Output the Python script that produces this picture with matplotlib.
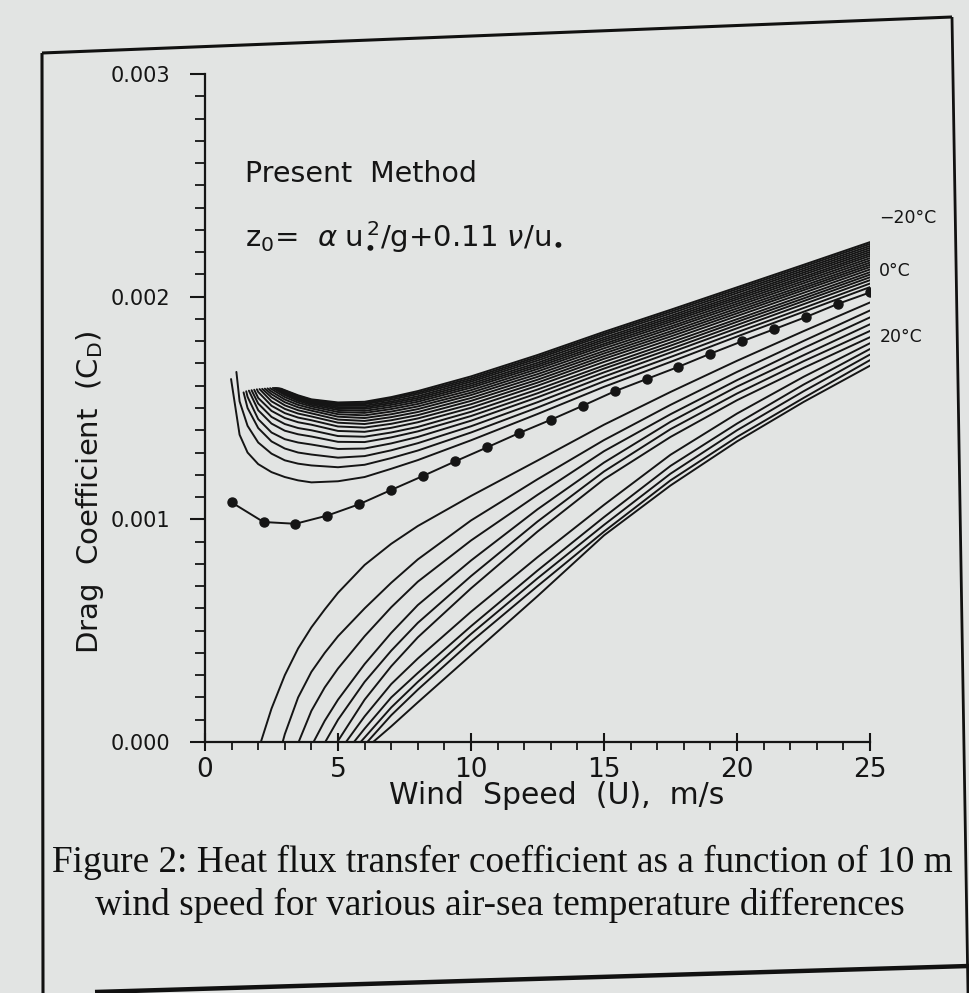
import numpy as np
import matplotlib
matplotlib.use('Agg')
import matplotlib.pyplot as plt
from matplotlib.lines import Line2D
from matplotlib.ticker import MultipleLocator, FormatStrFormatter

nan = np.nan
W, H = 969, 993
BG = '#e2e4e3'
INK = '#151515'

# drag coefficient values are in units of 1e-3

# 0 C curve (the one with dots)
U0 = [1.0, 2.2, 3.4, 4.6, 5.8, 7.0, 8.2, 9.4, 10.6, 11.8, 13.0, 14.2, 15.4,
      16.6, 17.8, 19.0, 20.2, 21.4, 22.6, 23.8, 25.0]
CD0 = [1.076, 0.988, 0.980, 1.017, 1.068, 1.132, 1.195, 1.260, 1.323, 1.387,
       1.447, 1.510, 1.575, 1.630, 1.685, 1.744, 1.800, 1.854, 1.909, 1.968, 2.019]

# air colder than sea, down to -20 C
UP_U = [1.3, 1.6, 2.0, 2.5, 3.0, 3.5, 4.0, 5, 6, 7, 8, 10, 12.5, 15, 17.5, 20, 22.5, 25]
UP_TIP_U = [0.98, 1.18, 1.45, 1.55, 1.65, 1.75, 1.85, 1.95, 2.05, 2.15,
            2.25, 2.35, 2.45, 2.55, 2.6, 2.65, 2.7, 2.75, 2.8, 2.85]
UP_TIP_CD = [1.63, 1.662, 1.57, 1.575, 1.578, 1.58, 1.582, 1.584, 1.585, 1.586,
             1.587, 1.588, 1.589, 1.59, 1.59, 1.59, 1.59, 1.589, 1.588, 1.587]
UP_CD = [
    [1.38, 1.30, 1.248, 1.212, 1.19, 1.175, 1.166, 1.171, 1.190, 1.227, 1.266, 1.355, 1.473, 1.595, 1.707, 1.821, 1.932, 2.043],
    [1.53, 1.42, 1.345, 1.295, 1.265, 1.25, 1.242, 1.234, 1.245, 1.275, 1.309, 1.39, 1.502, 1.62, 1.729, 1.84, 1.949, 2.059],
    [nan, 1.50, 1.41, 1.35, 1.318, 1.30, 1.291, 1.277, 1.284, 1.310, 1.342, 1.418, 1.526, 1.641, 1.749, 1.858, 1.966, 2.074],
    [nan, 1.55, 1.45, 1.39, 1.36, 1.345, 1.336, 1.316, 1.318, 1.341, 1.370, 1.443, 1.548, 1.660, 1.765, 1.873, 1.980, 2.087],
    [nan, nan, 1.49, 1.43, 1.398, 1.382, 1.372, 1.348, 1.347, 1.368, 1.395, 1.464, 1.566, 1.677, 1.780, 1.887, 1.992, 2.099],
    [nan, nan, 1.52, 1.46, 1.428, 1.41, 1.40, 1.374, 1.371, 1.390, 1.415, 1.483, 1.583, 1.691, 1.794, 1.899, 2.004, 2.110],
    [nan, nan, 1.545, 1.487, 1.455, 1.436, 1.425, 1.397, 1.393, 1.411, 1.436, 1.501, 1.600, 1.707, 1.808, 1.913, 2.017, 2.122],
    [nan, nan, 1.572, 1.51, 1.477, 1.457, 1.445, 1.417, 1.412, 1.429, 1.453, 1.517, 1.614, 1.721, 1.821, 1.925, 2.029, 2.133],
    [nan, nan, nan, 1.53, 1.496, 1.475, 1.462, 1.434, 1.428, 1.445, 1.468, 1.532, 1.627, 1.733, 1.833, 1.936, 2.039, 2.143],
    [nan, nan, nan, 1.548, 1.512, 1.49, 1.476, 1.448, 1.442, 1.459, 1.482, 1.545, 1.640, 1.745, 1.844, 1.947, 2.049, 2.153],
    [nan, nan, nan, 1.562, 1.526, 1.503, 1.488, 1.461, 1.455, 1.472, 1.495, 1.558, 1.652, 1.756, 1.856, 1.958, 2.060, 2.163],
    [nan, nan, nan, 1.574, 1.538, 1.514, 1.498, 1.472, 1.467, 1.484, 1.507, 1.569, 1.664, 1.768, 1.866, 1.968, 2.070, 2.173],
    [nan, nan, nan, 1.585, 1.549, 1.524, 1.507, 1.482, 1.478, 1.495, 1.518, 1.580, 1.675, 1.779, 1.877, 1.978, 2.080, 2.183],
    [nan, nan, nan, nan, 1.558, 1.532, 1.514, 1.491, 1.487, 1.505, 1.528, 1.591, 1.685, 1.788, 1.887, 1.988, 2.089, 2.192],
    [nan, nan, nan, nan, 1.564, 1.538, 1.52, 1.498, 1.496, 1.514, 1.537, 1.600, 1.694, 1.798, 1.896, 1.997, 2.099, 2.201],
    [nan, nan, nan, nan, 1.568, 1.543, 1.525, 1.504, 1.503, 1.522, 1.545, 1.609, 1.703, 1.807, 1.905, 2.006, 2.108, 2.210],
    [nan, nan, nan, nan, 1.572, 1.547, 1.529, 1.510, 1.510, 1.529, 1.553, 1.618, 1.713, 1.816, 1.914, 2.016, 2.117, 2.219],
    [nan, nan, nan, nan, 1.575, 1.551, 1.533, 1.516, 1.517, 1.537, 1.562, 1.626, 1.722, 1.826, 1.924, 2.025, 2.126, 2.228],
    [nan, nan, nan, nan, 1.578, 1.554, 1.536, 1.521, 1.522, 1.544, 1.569, 1.634, 1.730, 1.834, 1.933, 2.034, 2.135, 2.237],
    [nan, nan, nan, nan, 1.580, 1.557, 1.539, 1.525, 1.528, 1.549, 1.576, 1.642, 1.738, 1.842, 1.941, 2.042, 2.143, 2.245],
]

# air warmer than sea, up to +20 C; each curve starts from Cd = 0
LOW_U = [2.5, 3, 3.5, 4, 4.5, 5, 6, 7, 8, 10, 12.5, 15, 17.5, 20, 22.5, 25]
LOW_START_U = [2.1, 2.92, 3.52, 4.08, 4.52, 4.97, 5.3, 5.6, 5.85, 6.1, 6.32]
LOW_CD = [
    [0.15, 0.30, 0.42, 0.515, 0.595, 0.67, 0.795, 0.89, 0.97, 1.105, 1.264, 1.425, 1.572, 1.712, 1.845, 1.974],
    [nan, 0.035, 0.20, 0.315, 0.40, 0.475, 0.60, 0.715, 0.82, 0.995, 1.18, 1.356, 1.514, 1.662, 1.801, 1.938],
    [nan, nan, nan, 0.14, 0.245, 0.33, 0.475, 0.605, 0.72, 0.905, 1.11, 1.306, 1.472, 1.625, 1.769, 1.907],
    [nan, nan, nan, nan, 0.095, 0.19, 0.35, 0.49, 0.615, 0.815, 1.045, 1.255, 1.438, 1.596, 1.737, 1.876],
    [nan, nan, nan, nan, nan, 0.10, 0.27, 0.41, 0.535, 0.745, 0.99, 1.215, 1.405, 1.565, 1.71, 1.846],
    [nan, nan, nan, nan, nan, 0.005, 0.19, 0.34, 0.47, 0.69, 0.945, 1.18, 1.37, 1.535, 1.68, 1.818],
    [nan, nan, nan, nan, nan, nan, 0.115, 0.26, 0.375, 0.585, 0.83, 1.065, 1.29, 1.475, 1.64, 1.791],
    [nan, nan, nan, nan, nan, nan, 0.06, 0.20, 0.31, 0.52, 0.77, 1.01, 1.24, 1.43, 1.605, 1.765],
    [nan, nan, nan, nan, nan, nan, 0.02, 0.155, 0.27, 0.485, 0.735, 0.975, 1.205, 1.40, 1.575, 1.74],
    [nan, nan, nan, nan, nan, nan, nan, 0.12, 0.235, 0.45, 0.70, 0.945, 1.175, 1.37, 1.545, 1.715],
    [nan, nan, nan, nan, nan, nan, nan, 0.07, 0.178, 0.39, 0.655, 0.928, 1.152, 1.35, 1.527, 1.69],
]

END_LABELS = ['\u221220\u00b0C', '0\u00b0C', '20\u00b0C']
END_LABEL_CD = [2.353, 2.115, 1.818]

plt.rcParams['font.family'] = ['DejaVu Sans']
plt.rcParams['mathtext.fontset'] = 'dejavusans'

fig = plt.figure(figsize=(W / 100, H / 100), dpi=100)
fig.patch.set_facecolor(BG)
ax = fig.add_axes([205 / W, 1 - 742 / H, 665 / W, 668 / H])
ax.patch.set_alpha(0)

sc = 1e-3
lw = 1.4

for tu, tc, row in zip(UP_TIP_U, UP_TIP_CD, UP_CD):
    xs = [tu] + [u for u, v in zip(UP_U, row) if not np.isnan(v)]
    ys = [tc] + [v for v in row if not np.isnan(v)]
    ax.plot(xs, np.array(ys) * sc, color=INK, lw=lw, solid_capstyle='round', solid_joinstyle='round')

for u0, row in zip(LOW_START_U, LOW_CD):
    xs = [u0] + [u for u, v in zip(LOW_U, row) if not np.isnan(v)]
    ys = [0.0] + [v for v in row if not np.isnan(v)]
    ax.plot(xs, np.array(ys) * sc, color=INK, lw=lw, solid_capstyle='round', solid_joinstyle='round')

ax.plot(U0, np.array(CD0) * sc, color=INK, lw=lw, marker='o', ms=6.5)

ax.set_xlim(0, 25)
ax.set_ylim(0, 0.003)
for s in ['top', 'right']:
    ax.spines[s].set_visible(False)
for s in ['left', 'bottom']:
    ax.spines[s].set_linewidth(1.6)
    ax.spines[s].set_color(INK)

ax.xaxis.set_major_locator(MultipleLocator(5))
ax.xaxis.set_minor_locator(MultipleLocator(1))
ax.yaxis.set_major_locator(MultipleLocator(0.001))
ax.yaxis.set_minor_locator(MultipleLocator(0.0001))
ax.yaxis.set_major_formatter(FormatStrFormatter('%.3f'))
ax.tick_params(axis='x', which='major', direction='inout', length=13, width=1.5,
               labelsize=19, pad=4, colors=INK)
ax.tick_params(axis='x', which='minor', direction='out', length=6, width=1.3, colors=INK)
ax.tick_params(axis='y', which='major', direction='out', length=11, width=1.5,
               labelsize=15, pad=14, colors=INK)
ax.tick_params(axis='y', which='minor', direction='out', length=7, width=1.3, colors=INK)

ax.set_xlabel('Wind  Speed  (U),  m/s', fontsize=21.5, color=INK)
ax.xaxis.set_label_coords((557 - 205) / 665, -0.058)
ax.set_ylabel(r'Drag  Coefficient  ($\mathregular{C_D}$)', fontsize=21, color=INK)
ax.yaxis.set_label_coords((106 - 205) / 665, 0.374)

ax.text(1.5, 2.55e-3, 'Present  Method', fontsize=20.5, color=INK, va='center')
ax.text(1.5, 2.27e-3,
        r'$\mathregular{z_0}$=  $\alpha\;\mathregular{u_{\bullet}^{\,2}}$/g+0.11 $\nu$/u$_{\bullet}$',
        fontsize=21, color=INK, va='center')

for lab, cd in zip(END_LABELS, END_LABEL_CD):
    ax.text(25.35, cd * sc, lab, fontsize=12.5, color=INK, va='center', clip_on=False)

fig.text(52 / W, 1 - 862 / H, 'Figure 2: Heat flux transfer coefficient as a function of 10 m',
         family='Liberation Serif', fontsize=26.8, color='#111111', va='center')
fig.text(95 / W, 1 - 905 / H, 'wind speed for various air-sea temperature differences',
         family='Liberation Serif', fontsize=26.8, color='#111111', va='center')

# page frame
def fline(p, q, w):
    fig.add_artist(Line2D([p[0] / W, q[0] / W], [1 - p[1] / H, 1 - q[1] / H],
                          color='#111111', lw=w, solid_capstyle='butt'))

fline((42, 53), (952, 17), 2.2)
fline((42, 53), (43, 993), 2.2)
fline((952, 17), (968, 993), 2.0)
fline((95, 992), (969, 966), 3.2)

fig.savefig('out.png', dpi=100, facecolor=BG)
